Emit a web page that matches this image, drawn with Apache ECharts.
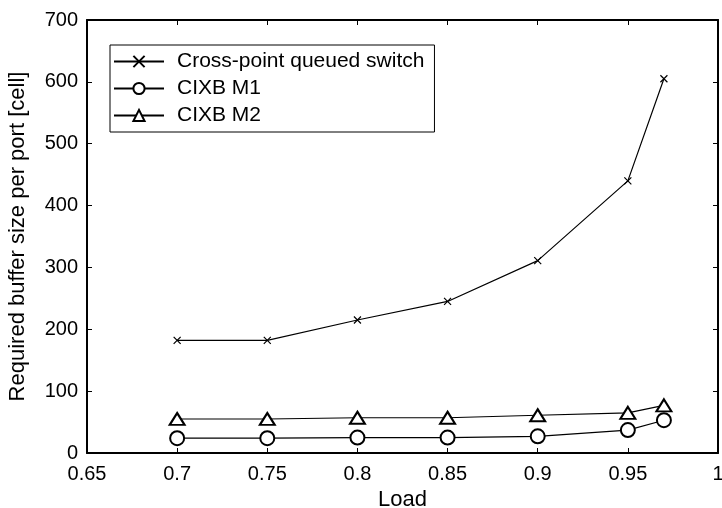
<!DOCTYPE html>
<html><head><meta charset="utf-8">
<script src="https://cdn.jsdelivr.net/npm/echarts@6/dist/echarts.min.js"></script>
<style>html,body{margin:0;padding:0;background:#fff}#c{width:722px;height:508px}</style>
</head><body><div id="c"></div>
<script>
const loads = [0.7, 0.75, 0.8, 0.85, 0.9, 0.95, 0.97];
const crossPoint = [182, 182, 215, 245, 311, 440, 605];
const cixbM1 = [24, 24, 25, 25, 27, 37, 53];
const cixbM2 = [55, 55, 57, 57, 61, 65, 77];
const seriesNames = ['Cross-point queued switch', 'CIXB M1', 'CIXB M2'];

const FONT = 'Liberation Sans';
const FS = 20;
const pair = (ys) => loads.map((x, i) => [x, ys[i]]);
const crossSym = 'path://M0,0L10,10M10,0L0,10';

const chart = echarts.init(document.getElementById('c'));
const axisCommon = {
  axisLine: {show: true, onZero: false, lineStyle: {color: '#000', width: 2}},
  axisTick: {show: true, inside: true, length: 5, lineStyle: {color: '#000', width: 1}},
  splitLine: {show: false},
  axisLabel: {color: '#000', fontSize: FS, fontFamily: FONT}
};
chart.setOption({
  animation: false,
  backgroundColor: '#fff',
  grid: {left: 87, right: 4, top: 20, bottom: 55, containLabel: false, outerBoundsMode: 'none'},
  legend: {
    orient: 'vertical', left: 110, top: 45,
    data: seriesNames,
    itemWidth: 50, itemHeight: 14, itemGap: 6,
    padding: [6, 10, 6, 3],
    borderColor: '#000', borderWidth: 1, borderRadius: 0,
    backgroundColor: '#fff',
    textStyle: {color: '#000', fontSize: 21, fontFamily: FONT, padding: [0, 0, 0, 8]}
  },
  xAxis: [
    Object.assign({}, axisCommon, {
      type: 'value', min: 0.65, max: 1, interval: 0.05,
      name: 'Load', nameLocation: 'middle', nameGap: 31,
      nameTextStyle: {color: '#000', fontSize: 22, fontFamily: FONT},
      axisLabel: Object.assign({}, axisCommon.axisLabel, {margin: 11,
        formatter: v => String(parseFloat(v.toFixed(2)))})
    }),
    Object.assign({}, axisCommon, {
      type: 'value', min: 0.65, max: 1, interval: 0.05, position: 'top',
      axisLabel: {show: false}
    })
  ],
  yAxis: [
    Object.assign({}, axisCommon, {
      type: 'value', min: 0, max: 700, interval: 100,
      name: 'Required buffer size per port [cell]', nameLocation: 'middle', nameGap: 58,
      nameTextStyle: {color: '#000', fontSize: 22, fontFamily: FONT},
      axisLabel: Object.assign({}, axisCommon.axisLabel, {margin: 9})
    }),
    Object.assign({}, axisCommon, {
      type: 'value', min: 0, max: 700, interval: 100, position: 'right',
      axisLabel: {show: false}
    })
  ],
  series: [
    {name: seriesNames[0], type: 'line', data: pair(crossPoint),
     symbol: crossSym, symbolSize: 7,
     lineStyle: {color: '#000', width: 1.2},
     itemStyle: {color: '#000', borderColor: '#000', borderWidth: 1.2}},
    {name: seriesNames[1], type: 'line', data: pair(cixbM1),
     symbol: 'emptyCircle', symbolSize: 14,
     lineStyle: {color: '#000', width: 1.2},
     itemStyle: {color: '#000', borderColor: '#000', borderWidth: 1.2}},
    {name: seriesNames[2], type: 'line', data: pair(cixbM2),
     symbol: 'emptyTriangle', symbolSize: [15, 12],
     lineStyle: {color: '#000', width: 1.2},
     itemStyle: {color: '#000', borderColor: '#000', borderWidth: 1.2}}
  ]
});
</script></body></html>
